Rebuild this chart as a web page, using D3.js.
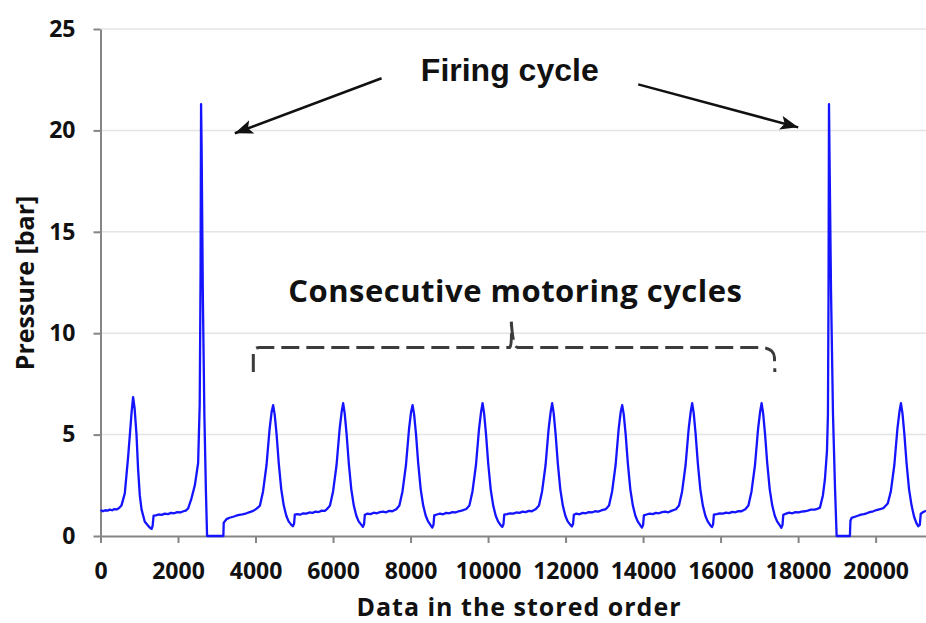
<!DOCTYPE html>
<html>
<head>
<meta charset="utf-8">
<script src="https://cdn.jsdelivr.net/npm/d3@7"></script>
<style>
    body { margin: 0; background: #fff; }
    .axis path, .axis line { stroke: #858585; stroke-width: 2; }
    .axis text { font-family: "Open Sans", sans-serif; font-weight: 700; font-size: 23px; fill: #111; }
    .grid line { stroke: #e4e4e4; stroke-width: 1.5; }
    .title { font-family: "Open Sans", sans-serif; font-weight: 700; font-size: 25px; fill: #111; }
    .trace { fill: none; stroke: #1414ff; stroke-width: 2.3; stroke-linejoin: round; }
    .note { font-weight: 700; fill: #111; }
    .arrow { stroke: #111; stroke-width: 2.5; }
    .bracket { fill: none; stroke: #3c3c3c; stroke-width: 3; stroke-dasharray: 18 7; }
</style>
</head>
<body>
<svg id="chart" width="926" height="623"></svg>
<script>
var xTicks = [0, 2000, 4000, 6000, 8000, 10000, 12000, 14000, 16000, 18000, 20000];
var yTicks = [0, 5, 10, 15, 20, 25];
var xLabel = 'Data in the stored order';
var yLabel = 'Pressure [bar]';
var notes = ['Firing cycle', 'Consecutive motoring cycles'];

// [sample index, pressure in bar]
var trace = [
    // motoring cycle before first firing
    [0,1.28],[60,1.22],[120,1.27],[180,1.25],[240,1.3],[300,1.27],[360,1.33],[420,1.31],[480,1.38],
    [540,1.5],[627,2.1],[713,3.9],[770,5.3],[800,6.05],[841,6.85],[880,6.3],[929,5.0],[970,3.3],[1014,2.0],
    [1060,1.3],[1143,0.7],[1230,0.5],[1290,0.38],[1320,0.35],[1345,0.5],[1370,1.0],
    [1430,1.02],[1500,1.06],[1580,1.04],[1660,1.1],[1740,1.08],[1820,1.14],[1900,1.12],[1980,1.18],
    [2060,1.16],[2140,1.22],[2200,1.25],[2261,1.36],
    // firing cycle 1
    [2340,1.8],[2434,2.5],[2519,3.6],[2560,6.5],[2582,13],[2595,21.3],[2610,19],[2640,12],[2680,6],
    [2720,2.2],[2750,0],[3170,0],[3180,0.66],
    [3251,0.83],[3330,0.9],[3423,0.95],[3500,1.0],[3580,1.04],[3660,1.07],[3767,1.12],[3850,1.18],
    [3940,1.24],[4030,1.35],
    // motoring cycles
    [4114,1.5],[4194,2.2],[4284,3.5],[4364,5.3],[4414,6.1],[4454,6.45],[4494,6.0],[4544,5.0],[4599,3.6],
    [4664,2.3],[4729,1.5],[4794,1.0],[4854,0.72],[4924,0.55],[4964,0.48],[4994,0.6],[5014,1.05],
    [5080,1.08],[5150,1.05],[5230,1.12],[5310,1.1],[5390,1.16],[5470,1.14],[5550,1.2],[5630,1.18],
    [5710,1.25],[5790,1.24],[5841,1.32],
    [5921,1.5],[6001,2.2],[6091,3.5],[6171,5.3],[6221,6.1],[6261,6.55],[6301,6.05],[6351,5.0],[6406,3.6],
    [6471,2.3],[6536,1.5],[6601,1.0],[6661,0.72],[6731,0.55],[6771,0.45],[6801,0.6],[6821,1.05],
    [6890,1.1],[6970,1.08],[7050,1.15],[7130,1.12],[7210,1.18],[7290,1.2],[7370,1.17],[7450,1.24],
    [7530,1.22],[7632,1.32],
    [7712,1.5],[7792,2.2],[7882,3.5],[7962,5.3],[8012,6.1],[8052,6.45],[8092,6.0],[8142,5.0],[8197,3.6],
    [8262,2.3],[8327,1.5],[8392,1.0],[8452,0.72],[8522,0.52],[8562,0.42],[8592,0.55],[8612,1.02],
    [8680,1.06],[8760,1.1],[8840,1.07],[8920,1.14],[9000,1.12],[9080,1.18],[9160,1.16],[9240,1.22],
    [9320,1.25],[9438,1.33],
    [9518,1.5],[9598,2.2],[9688,3.5],[9768,5.3],[9818,6.1],[9858,6.55],[9898,6.05],[9948,5.0],[10003,3.6],
    [10068,2.3],[10133,1.5],[10198,1.0],[10258,0.72],[10328,0.52],[10368,0.45],[10398,0.58],[10418,1.05],
    [10490,1.08],[10570,1.12],[10650,1.1],[10730,1.16],[10810,1.14],[10890,1.2],[10970,1.18],[11050,1.24],
    [11130,1.22],[11234,1.33],
    [11314,1.5],[11394,2.2],[11484,3.5],[11564,5.3],[11614,6.1],[11654,6.55],[11694,6.05],[11744,5.0],
    [11799,3.6],[11864,2.3],[11929,1.5],[11994,1.0],[12054,0.72],[12124,0.55],[12164,0.47],[12194,0.6],
    [12214,1.05],
    [12280,1.1],[12360,1.07],[12440,1.14],[12520,1.12],[12600,1.18],[12680,1.16],[12760,1.22],[12840,1.2],
    [12920,1.26],[13041,1.33],
    [13121,1.5],[13201,2.2],[13291,3.5],[13371,5.3],[13421,6.1],[13461,6.45],[13501,6.0],[13551,5.0],
    [13606,3.6],[13671,2.3],[13736,1.5],[13801,1.0],[13861,0.72],[13931,0.52],[13971,0.42],[14001,0.55],
    [14021,1.02],
    [14090,1.06],[14170,1.1],[14250,1.08],[14330,1.14],[14410,1.12],[14490,1.18],[14570,1.2],[14650,1.17],
    [14730,1.24],[14847,1.32],
    [14927,1.5],[15007,2.2],[15097,3.5],[15177,5.3],[15227,6.1],[15267,6.55],[15307,6.05],[15357,5.0],
    [15412,3.6],[15477,2.3],[15542,1.5],[15607,1.0],[15667,0.72],[15737,0.52],[15777,0.44],[15807,0.58],
    [15827,1.05],
    [15900,1.08],[15980,1.12],[16060,1.1],[16140,1.15],[16220,1.13],[16300,1.19],[16380,1.17],[16460,1.23],
    [16540,1.22],[16638,1.32],
    [16718,1.5],[16798,2.2],[16888,3.5],[16968,5.3],[17018,6.1],[17058,6.55],[17098,6.05],[17148,5.0],
    [17203,3.6],[17268,2.3],[17333,1.5],[17398,1.0],[17458,0.72],[17528,0.52],[17568,0.4],[17598,0.55],
    [17618,1.05],
    [17690,1.1],[17770,1.15],[17850,1.12],[17930,1.18],[18010,1.16],[18090,1.2],[18170,1.22],[18250,1.25],
    [18330,1.3],[18420,1.3],[18500,1.34],
    // firing cycle 2
    [18563,1.4],[18640,2.0],[18692,2.8],[18745,4.2],[18770,6.0],[18785,12],[18797,21.3],[18815,18],
    [18850,12],[18900,6],[18950,2.5],[18994,0],[19337,0],[19350,0.75],[19380,0.89],
    [19466,0.95],[19540,1.0],[19620,1.05],[19700,1.08],[19768,1.12],[19850,1.18],[19940,1.22],[20024,1.28],
    [20110,1.32],[20197,1.37],
    // last motoring cycle
    [20313,1.6],[20393,2.2],[20483,3.5],[20563,5.3],[20613,6.1],[20653,6.55],[20693,6.05],[20743,5.0],
    [20798,3.6],[20863,2.3],[20928,1.5],[20993,0.95],[21050,0.65],[21100,0.48],[21140,0.55],[21165,1.1],
    [21230,1.18],[21300,1.25]
];

var svg = d3.select('#chart')
    , margin = {top: 29, right: 0, bottom: 87, left: 100.5}
    , width = +svg.attr('width') - margin.left - margin.right
    , height = +svg.attr('height') - margin.top - margin.bottom
    ;

var x = d3.scaleLinear().domain([0, 21300]).range([margin.left, margin.left + width]);
var y = d3.scaleLinear().domain([0, 25]).range([margin.top + height, margin.top]);

// horizontal grid
svg.append('g')
    .attr('class', 'grid')
    .selectAll('line')
    .data(yTicks.filter(function(d) { return d > 0; }))
    .enter().append('line')
    .attr('x1', x(0))
    .attr('x2', x(21300))
    .attr('y1', function(d) { return y(d); })
    .attr('y2', function(d) { return y(d); });

svg.append('g')
    .attr('class', 'axis axis--x')
    .attr('transform', 'translate(0,' + y(0) + ')')
    .call(d3.axisBottom(x).tickValues(xTicks).tickFormat(d3.format('d'))
        .tickSizeInner(7).tickSizeOuter(0).tickPadding(20));

svg.append('g')
    .attr('class', 'axis axis--y')
    .attr('transform', 'translate(' + x(0) + ',0)')
    .call(d3.axisLeft(y).tickValues(yTicks).tickSizeInner(7).tickSizeOuter(0).tickPadding(18));

svg.selectAll('.axis .domain').attr('stroke', '#858585');
svg.selectAll('.axis .tick line').attr('stroke', '#6f6f6f');

svg.append('text')
    .attr('class', 'title')
    .attr('x', 519)
    .attr('y', 616)
    .attr('text-anchor', 'middle')
    .style('letter-spacing', '1px')
    .text(xLabel);

svg.append('text')
    .attr('class', 'title')
    .attr('transform', 'translate(34,283) rotate(-90)')
    .attr('text-anchor', 'middle')
    .text(yLabel);

var line = d3.line()
    .x(function(d) { return x(d[0]); })
    .y(function(d) { return y(d[1]); });

svg.append('path')
    .attr('class', 'trace')
    .attr('d', line(trace));

// annotations
svg.append('defs').append('marker')
    .attr('id', 'arrowhead')
    .attr('markerUnits', 'userSpaceOnUse')
    .attr('markerWidth', 20)
    .attr('markerHeight', 16)
    .attr('refX', 18)
    .attr('refY', 7)
    .attr('orient', 'auto')
    .append('path')
    .attr('d', 'M0,0L18,7L0,14L4,7Z')
    .attr('fill', '#111');

var arrows = [
    [[7252, 22.57], [3466, 19.86]],
    [[13874, 22.27], [18003, 20.15]]
];

svg.append('g')
    .selectAll('line')
    .data(arrows)
    .enter().append('line')
    .attr('class', 'arrow')
    .attr('x1', function(d) { return x(d[0][0]); })
    .attr('y1', function(d) { return y(d[0][1]); })
    .attr('x2', function(d) { return x(d[1][0]); })
    .attr('y2', function(d) { return y(d[1][1]); })
    .attr('marker-end', 'url(#arrowhead)');

svg.append('text')
    .attr('class', 'note')
    .attr('x', x(10560))
    .attr('y', y(22.45))
    .attr('text-anchor', 'middle')
    .style('font-family', '"Liberation Sans", Arial, sans-serif')
    .style('font-size', '32px')
    .text(notes[0]);

svg.append('text')
    .attr('class', 'note')
    .attr('x', x(10705))
    .attr('y', y(11.55))
    .attr('text-anchor', 'middle')
    .style('font-family', '"Open Sans", sans-serif')
    .style('font-size', '31px')
    .style('letter-spacing', '0.5px')
    .text(notes[1]);

var brace = d3.path();
brace.moveTo(x(3943), y(8.09));
brace.lineTo(x(3943), y(9.0));
brace.quadraticCurveTo(x(3943), y(9.3), x(4100), y(9.3));
brace.lineTo(x(10560), y(9.3));
brace.quadraticCurveTo(x(10620), y(9.4), x(10600), y(10.57));
brace.moveTo(x(10600), y(10.57));
brace.quadraticCurveTo(x(10640), y(9.3), x(10760), y(9.3));
brace.lineTo(x(16963), y(9.3));
brace.quadraticCurveTo(x(17380), y(9.3), x(17390), y(8.8));
brace.lineTo(x(17400), y(8.09));

svg.append('path')
    .attr('class', 'bracket')
    .attr('d', brace.toString());
</script>
</body>
</html>
